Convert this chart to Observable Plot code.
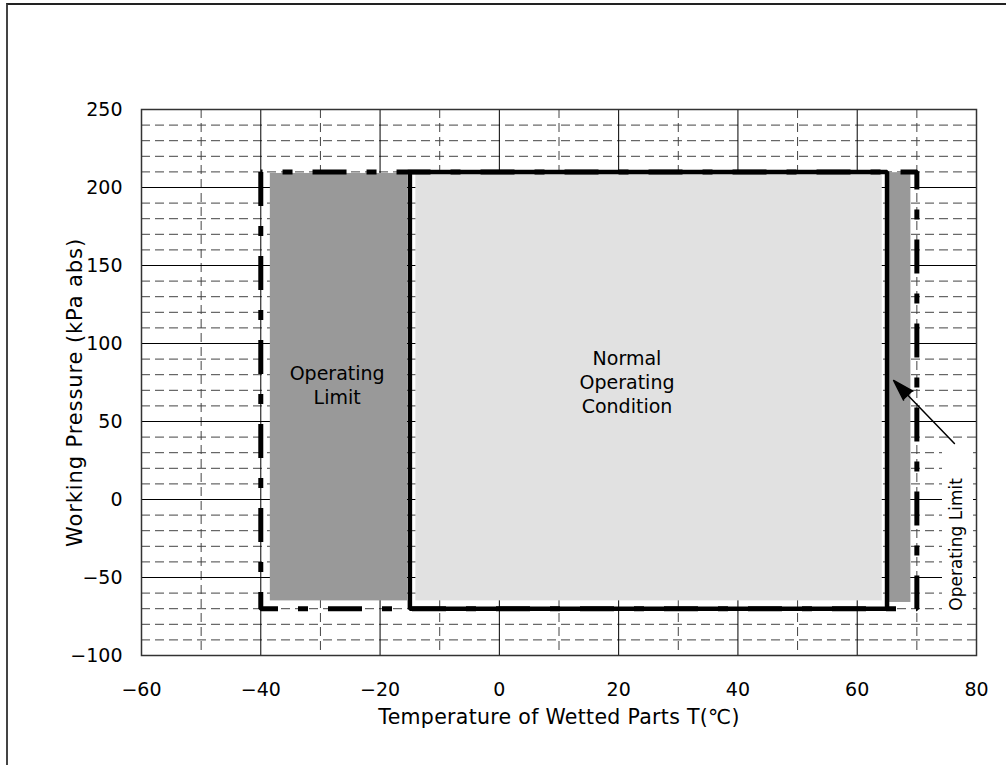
<!DOCTYPE html>
<html><head><meta charset="utf-8">
<script src="https://cdn.jsdelivr.net/npm/d3@7"></script>
<script src="https://cdn.jsdelivr.net/npm/@observablehq/plot@0.6"></script>
<style>
html,body{margin:0;padding:0;background:#fff;}
#wrap{position:relative;width:1006px;height:765px;overflow:hidden;}
#wrap svg{display:block;}
#border{position:absolute;left:6px;top:3px;right:-10px;bottom:-10px;border-left:2px solid #444;border-top:2px solid #222;pointer-events:none;}
.ylab text{letter-spacing:0.9px;}
.xlab text{letter-spacing:0.3px;}
</style></head><body><div id="wrap"><div id="border"></div></div>
<script>
// Axis ticks
const xTicks = [-60, -40, -20, 0, 20, 40, 60, 80];
const xMinor = [-50, -30, -10, 10, 30, 50, 70];
const yTicks = [-100, -50, 0, 50, 100, 150, 200, 250];
const yMinor = [-90, -80, -70, -60, -40, -30, -20, -10, 10, 20, 30, 40, 60, 70, 80, 90,
                110, 120, 130, 140, 160, 170, 180, 190, 210, 220, 230, 240];

// Shaded zones (temperature °C, pressure kPa abs)
const zoneNames = ["Operating Limit (low)", "Normal Operating Condition", "Operating Limit (high)"];
const zoneKind  = ["limit", "normal", "limit"];
const zoneT1 = [-38.4, -14.0, 65.4];
const zoneT2 = [-15.4, 64.2, 69.0];
const zoneP1 = [-65, -65, -66];
const zoneP2 = [209, 209, 209.5];

// Boundaries
const normalT = [-15, 65];     // normal operating temperature range
const limitT  = [-40, 70];     // operating limit temperature range
const pressureRange = [-70, 210];

// Labels
const labelText = ["Operating\nLimit", "Normal\nOperating\nCondition"];
const labelT = [-27.2, 21.4];
const labelP = [73.7, 75.6];

// Side annotation
const sideText = "Operating Limit";
const sideBoxT = [74.3, 79.5];
const sideBoxP = [-74, 34.6];
const sideT = 76.7, sideP = -28.8;
const arrowT1 = 76.3, arrowP1 = 35.9, arrowT2 = 66.1, arrowP2 = 76.3;

const xLabel = "Temperature of Wetted Parts T(℃)";
const yLabel = "Working Pressure (kPa abs)";

const zones = zoneNames.map((name, i) => ({name, kind: zoneKind[i], t1: zoneT1[i], t2: zoneT2[i], p1: zoneP1[i], p2: zoneP2[i]}));
const rectPath = (ts) => [
  {t: ts[0], p: pressureRange[1]}, {t: ts[0], p: pressureRange[0]},
  {t: ts[1], p: pressureRange[0]}, {t: ts[1], p: pressureRange[1]},
  {t: ts[0], p: pressureRange[1]}
];
const labels = labelText.map((text, i) => ({text, t: labelT[i], p: labelP[i]}));
const fmt = d => d < 0 ? "\u2212" + (-d) : String(d);
const ff = '"DejaVu Sans", "Noto Sans CJK JP", sans-serif';

const chart = Plot.plot({
  width: 1006, height: 765,
  marginLeft: 141, marginRight: 30, marginTop: 109, marginBottom: 110,
  style: {fontFamily: ff, fontSize: "19px", color: "#000", background: "#fff", overflow: "visible"},
  x: {domain: [-60, 80]},
  y: {domain: [-100, 250]},
  marks: [
    Plot.ruleX(xMinor, {stroke: "#444", strokeWidth: 1, strokeDasharray: "9,5"}),
    Plot.ruleY(yMinor, {stroke: "#444", strokeWidth: 1, strokeDasharray: "9,5"}),
    Plot.ruleX(xTicks, {stroke: "#000", strokeWidth: 1}),
    Plot.ruleY(yTicks, {stroke: "#000", strokeWidth: 1}),
    Plot.rect(zones.filter(d => d.kind === "limit"), {x1: "t1", x2: "t2", y1: "p1", y2: "p2", fill: "#999999"}),
    Plot.rect(zones.filter(d => d.kind === "normal"), {x1: "t1", x2: "t2", y1: "p1", y2: "p2", fill: "#e1e1e1"}),
    Plot.rect([0], {x1: sideBoxT[0], x2: sideBoxT[1], y1: sideBoxP[0], y2: sideBoxP[1], fill: "#fff"}),
    Plot.line(rectPath(normalT), {x: "t", y: "p", stroke: "#000", strokeWidth: 4.5, strokeLinejoin: "miter", strokeLinecap: "square"}),
    Plot.line(rectPath(limitT), {x: "t", y: "p", stroke: "#000", strokeWidth: 5, strokeDasharray: "34,20,10,20", strokeLinejoin: "miter", strokeLinecap: "butt"}),
    Plot.text(labels, {x: "t", y: "p", text: "text", fontSize: 19, lineHeight: 1.25, fill: "#000"}),
    Plot.text([sideText], {x: sideT, y: sideP, text: d => d, rotate: -90, fontSize: 17, fill: "#000"}),
    Plot.arrow([0], {x1: arrowT1, y1: arrowP1, x2: arrowT2, y2: arrowP2, stroke: "#000", fill: "#000", strokeWidth: 1.5, headLength: 22, headAngle: 34}),
    Plot.frame({stroke: "#333", strokeWidth: 1.5}),
    Plot.axisX({ticks: xTicks, tickSize: 0, tickPadding: 27, tickFormat: fmt, label: null, fontSize: 19}),
    Plot.axisY({ticks: yTicks, tickSize: 0, tickPadding: 19, tickFormat: fmt, label: null, fontSize: 19}),
    Plot.text([xLabel], {frameAnchor: "bottom", dy: 62, text: d => d, fontSize: 20.5, textAnchor: "middle", lineAnchor: "middle", fill: "#000", className: "xlab"}),
    Plot.text([yLabel], {frameAnchor: "left", dx: -66, dy: 10, rotate: -90, text: d => d, fontSize: 21, textAnchor: "middle", lineAnchor: "middle", fill: "#000", className: "ylab"})
  ]
});
document.getElementById("wrap").prepend(chart);
</script>
</body></html>
